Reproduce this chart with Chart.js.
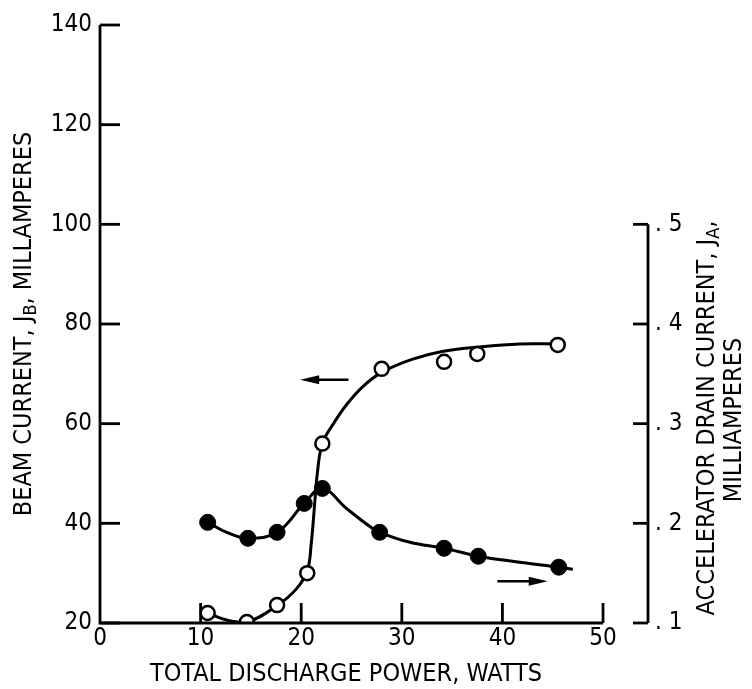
<!DOCTYPE html>
<html>
<head>
<meta charset="utf-8">
<script src="https://cdn.jsdelivr.net/npm/chart.js@4"></script>
<style>
  body { margin: 0; background: #fff; }
  #wrap { width: 752px; height: 689px; }
</style>
</head>
<body>
<div id="wrap"><canvas id="grafico"></canvas></div>
<script>
// valores
const potenciaHaz = [10.7, 14.6, 17.6, 20.6, 22.1, 28.0, 34.2, 37.5, 45.5];
const corrienteHaz = [22, 20.2, 23.6, 30, 56, 71, 72.4, 74, 75.8];
const potenciaDren = [10.7, 14.7, 17.6, 20.3, 22.1, 27.8, 34.2, 37.6, 45.6];
const corrienteDren = [0.201, 0.185, 0.191, 0.220, 0.235, 0.191, 0.175, 0.167, 0.156];

// curvas ajustadas (trazadas a mano en la figura)
const ajusteHazX = [10.7, 12.6, 14.6, 17.6, 19.5, 20.6, 21.0, 21.3, 21.6, 22.1, 23.2, 24.5, 26.1, 28.0, 31.0, 34.0, 37.7, 41.7, 45.5];
const ajusteHazY = [22, 20.6, 20.2, 23.5, 26.8, 30.5, 36, 43, 50, 56, 60, 63.8, 67.4, 70.3, 72.9, 74.5, 75.4, 76, 76];
const ajusteDrenX = [10.7, 12.6, 14.7, 17.6, 20.3, 22.1, 24.5, 26.8, 27.8, 30.8, 34.2, 37.6, 41.7, 45.6, 47.0];
const ajusteDrenY = [0.201, 0.191, 0.185, 0.191, 0.220, 0.235, 0.215, 0.197, 0.191, 0.181, 0.175, 0.167, 0.161, 0.156, 0.154];

const ticksX = [0, 10, 20, 30, 40, 50];
const ticksIzq = [20, 40, 60, 80, 100, 120, 140];
const ticksDer = [0.1, 0.2, 0.3, 0.4, 0.5];

// flechas: [x inicio, x fin, y (eje izquierdo)]
const flechaHaz = [24.7, 19.9, 68.8];
const flechaDren = [39.5, 44.5, 28.4];

const FUENTE = "'Liberation Sans Narrow', 'DejaVu Sans Condensed', sans-serif";

function puntos(xs, ys) {
  return xs.map((x, i) => ({ x: x, y: ys[i] }));
}

function textoRico(ctx, partes, cx, cy, tam) {
  let total = 0;
  partes.forEach(p => {
    ctx.font = (p.sub ? tam * 0.72 : tam) + "px " + FUENTE;
    p.w = ctx.measureText(p.t).width;
    total += p.w;
  });
  let x = cx - total / 2;
  partes.forEach(p => {
    ctx.font = (p.sub ? tam * 0.72 : tam) + "px " + FUENTE;
    ctx.fillText(p.t, x, cy + (p.sub ? tam * 0.28 : 0));
    x += p.w;
  });
}

function flecha(ctx, x1, x2, y) {
  const dir = Math.sign(x2 - x1);
  ctx.beginPath();
  ctx.moveTo(x1, y);
  ctx.lineTo(x2 - dir * 12, y);
  ctx.lineWidth = 2.5;
  ctx.stroke();
  ctx.beginPath();
  ctx.moveTo(x2, y);
  ctx.lineTo(x2 - dir * 19, y - 4.5);
  ctx.lineTo(x2 - dir * 19, y + 4.5);
  ctx.closePath();
  ctx.fill();
}

const ejesPlugin = {
  id: 'ejes',
  afterDatasetsDraw(chart) {
    const ctx = chart.ctx;
    const sx = chart.scales.x, sy = chart.scales.y, sy2 = chart.scales.y2;
    ctx.save();
    ctx.strokeStyle = "#000";
    ctx.fillStyle = "#000";
    ctx.lineWidth = 2.8;
    ctx.lineCap = "butt";

    const x0 = sx.getPixelForValue(0);
    const yb = sy.getPixelForValue(20);
    // eje izquierdo y eje x
    ctx.beginPath();
    ctx.moveTo(x0, sy.getPixelForValue(140));
    ctx.lineTo(x0, yb);
    ctx.lineTo(sx.getPixelForValue(50), yb);
    ctx.stroke();
    ticksIzq.forEach(v => {
      const y = sy.getPixelForValue(v);
      ctx.beginPath();
      ctx.moveTo(x0, y);
      ctx.lineTo(x0 + 20, y);
      ctx.stroke();
    });
    ticksX.slice(1).forEach(v => {
      const x = sx.getPixelForValue(v);
      ctx.beginPath();
      ctx.moveTo(x, yb);
      ctx.lineTo(x, yb - 20);
      ctx.stroke();
    });
    // eje derecho
    const xr = chart.chartArea.right;
    ctx.beginPath();
    ctx.moveTo(xr, sy2.getPixelForValue(0.5));
    ctx.lineTo(xr, sy2.getPixelForValue(0.1));
    ctx.stroke();
    ticksDer.forEach(v => {
      const y = sy2.getPixelForValue(v);
      ctx.beginPath();
      ctx.moveTo(xr, y);
      ctx.lineTo(xr - 15, y);
      ctx.stroke();
    });

    // flechas
    [flechaHaz, flechaDren].forEach(f => {
      flecha(ctx, sx.getPixelForValue(f[0]), sx.getPixelForValue(f[1]), sy.getPixelForValue(f[2]));
    });

    // titulos
    ctx.textBaseline = "middle";
    ctx.textAlign = "left";
    const tam = 25;
    textoRico(ctx, [{ t: "TOTAL DISCHARGE POWER, WATTS" }], 346, 674, 25);

    ctx.save();
    ctx.translate(24, (sy.top + sy.bottom) / 2);
    ctx.rotate(-Math.PI / 2);
    textoRico(ctx, [{ t: "BEAM CURRENT, J" }, { t: "B", sub: true }, { t: ", MILLAMPERES" }], 0, 0, tam);
    ctx.restore();

    ctx.save();
    ctx.translate(707, 418);
    ctx.rotate(-Math.PI / 2);
    textoRico(ctx, [{ t: "ACCELERATOR DRAIN CURRENT, J" }, { t: "A", sub: true }, { t: "," }], 0, 0, tam);
    ctx.restore();

    ctx.save();
    ctx.translate(734, 420);
    ctx.rotate(-Math.PI / 2);
    textoRico(ctx, [{ t: "MILLIAMPERES" }], 0, 0, tam);
    ctx.restore();

    ctx.restore();
  }
};

const ctx = document.getElementById('grafico').getContext('2d');

const grafico = new Chart(ctx, {
  type: 'scatter',
  data: {
    datasets: [
      {
        label: "Beam current (ajuste)",
        data: puntos(ajusteHazX, ajusteHazY),
        yAxisID: 'y',
        showLine: true,
        borderColor: "#000",
        borderWidth: 3,
        pointRadius: 0,
        tension: 0.4,
        order: 2
      },
      {
        label: "Accelerator drain (ajuste)",
        data: puntos(ajusteDrenX, ajusteDrenY),
        yAxisID: 'y2',
        showLine: true,
        borderColor: "#000",
        borderWidth: 3,
        pointRadius: 0,
        tension: 0.4,
        order: 2
      },
      {
        label: "Beam current",
        data: puntos(potenciaHaz, corrienteHaz),
        yAxisID: 'y',
        pointRadius: 7,
        pointBorderWidth: 2.5,
        pointBackgroundColor: "#fff",
        pointBorderColor: "#000",
        order: 0
      },
      {
        label: "Accelerator drain current",
        data: puntos(potenciaDren, corrienteDren),
        yAxisID: 'y2',
        pointRadius: 8,
        pointBorderWidth: 1,
        pointBackgroundColor: "#000",
        pointBorderColor: "#000",
        order: 0
      }
    ]
  },
  options: {
    responsive: true,
    maintainAspectRatio: false,
    animation: false,
    layout: { padding: { top: 25, left: 0, right: 0, bottom: 0 } },
    plugins: {
      legend: { display: false },
      tooltip: { enabled: false }
    },
    scales: {
      x: {
        type: 'linear',
        min: 0,
        max: 54.47,
        afterBuildTicks: s => { s.ticks = ticksX.map(v => ({ value: v })); },
        afterFit: s => { s.height = 66; },
        grid: { display: false, drawTicks: false },
        border: { display: false },
        ticks: {
          padding: 1,
          color: "#000",
          font: { family: FUENTE, size: 24 },
          maxRotation: 0
        }
      },
      y: {
        type: 'linear',
        position: 'left',
        min: 20,
        max: 140,
        afterBuildTicks: s => { s.ticks = ticksIzq.map(v => ({ value: v })); },
        afterFit: s => { s.width = 100; },
        grid: { display: false, drawTicks: false },
        border: { display: false },
        ticks: {
          padding: 8,
          color: "#000",
          font: { family: FUENTE, size: 24 }
        }
      },
      y2: {
        type: 'linear',
        position: 'right',
        min: 0.1,
        max: 0.7,
        afterBuildTicks: s => { s.ticks = ticksDer.map(v => ({ value: v })); },
        afterFit: s => { s.width = 104; },
        grid: { display: false, drawTicks: false },
        border: { display: false },
        ticks: {
          padding: 7,
          color: "#000",
          font: { family: FUENTE, size: 24 },
          callback: v => ". " + Math.round(v * 10)
        }
      }
    }
  },
  plugins: [ejesPlugin]
});
</script>
</body>
</html>
